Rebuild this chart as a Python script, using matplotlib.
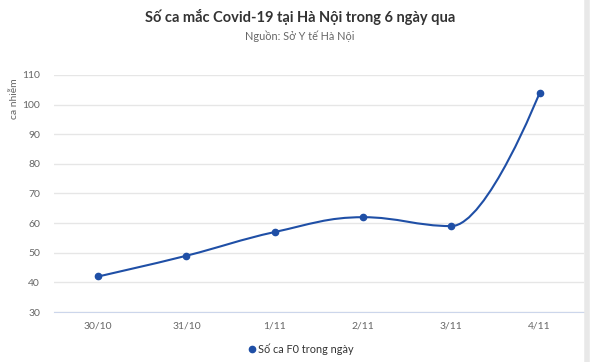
import matplotlib
matplotlib.use("Agg")
import matplotlib.pyplot as plt
from matplotlib.path import Path
from matplotlib.patches import PathPatch
from matplotlib.lines import Line2D

plt.rcParams['font.family'] = ['Lato', 'DejaVu Sans']

# data
dates = ["30/10", "31/10", "1/11", "2/11", "3/11", "4/11"]
cases = [42, 49, 57, 62, 59, 104]
yticks = [30, 40, 50, 60, 70, 80, 90, 100, 110]

TITLE = "Số ca mắc Covid-19 tại Hà Nội trong 6 ngày qua"
SUBTITLE = "Nguồn: Sở Y tế Hà Nội"
SERIES = "Số ca F0 trong ngày"
BLUE = "#1f4fa6"


def spline_path(xs, ys, smoothing=1.5):
    """Highcharts-like spline through points, as a cubic bezier path."""
    n = len(xs)
    left = [None] * n
    right = [None] * n
    denom = smoothing + 1
    for i in range(n):
        if i == 0 or i == n - 1:
            left[i] = (xs[i], ys[i])
            right[i] = (xs[i], ys[i])
            continue
        px, py = xs[i], ys[i]
        lx, ly = xs[i - 1], ys[i - 1]
        nx, ny = xs[i + 1], ys[i + 1]
        lcx = (smoothing * px + lx) / denom
        lcy = (smoothing * py + ly) / denom
        rcx = (smoothing * px + nx) / denom
        rcy = (smoothing * py + ny) / denom
        if rcx != lcx:
            slope = (rcy - lcy) / (rcx - lcx)
            lcy = py + (lcx - px) * slope
            rcy = py + (rcx - px) * slope
        if lcy > max(ly, py):
            lcy = max(ly, py); rcy = 2 * py - lcy
        elif lcy < min(ly, py):
            lcy = min(ly, py); rcy = 2 * py - lcy
        if rcy > max(ny, py):
            rcy = max(ny, py); lcy = 2 * py - rcy
        elif rcy < min(ny, py):
            rcy = min(ny, py); lcy = 2 * py - rcy
        left[i] = (lcx, lcy)
        right[i] = (rcx, rcy)
    verts = [(xs[0], ys[0])]
    codes = [Path.MOVETO]
    for i in range(1, n):
        verts += [right[i - 1], left[i], (xs[i], ys[i])]
        codes += [Path.CURVE4] * 3
    return Path(verts, codes)


fig = plt.figure(figsize=(6.0, 3.62), dpi=100)
ax = fig.add_axes([0.09, 0.138, 0.883, 0.655])

x = list(range(len(dates)))
ax.add_patch(PathPatch(spline_path(x, cases), fc="none", ec=BLUE, lw=1.5, zorder=3))
ax.plot(x, cases, "o", color=BLUE, ms=4.5, zorder=4)

ax.set_xlim(-0.5, len(dates) - 0.5)
ax.set_ylim(30, 110)
ax.set_yticks(yticks)
ax.set_xticks(x)
ax.set_xticklabels(dates)
ax.grid(axis="y", color="#e6e6e6", lw=1)
ax.set_axisbelow(True)
for s in ("top", "right", "left"):
    ax.spines[s].set_visible(False)
ax.spines["bottom"].set_color("#ccd6eb")
ax.tick_params(axis="both", length=0, labelsize=7.5, colors="#666666")
ax.tick_params(axis="y", pad=10)
ax.tick_params(axis="x", pad=7)
ax.set_ylabel("ca nhiễm", fontsize=7.5, color="#666666")
ax.yaxis.set_label_coords(-0.067, 0.9)

fig.text(0.5, 0.953, TITLE, ha="center", va="center", fontsize=10.5,
         fontweight="bold", color="#333333")
fig.text(0.5, 0.9, SUBTITLE, ha="center", va="center", fontsize=7.8,
         color="#666666")

handle = Line2D([], [], marker="o", color=BLUE, ls="none", ms=4.5)
fig.legend([handle], [SERIES], loc="center", bbox_to_anchor=(0.5, 0.035),
           frameon=False, fontsize=7.8, labelcolor="#333333",
           handletextpad=0.1, handlelength=1.0)

# light frame at the right edge
fig.add_artist(Line2D([0.978, 0.978], [0, 1], transform=fig.transFigure,
                      color="#e8e8e8", lw=4))

fig.savefig("out.png", dpi=100, facecolor="white")
